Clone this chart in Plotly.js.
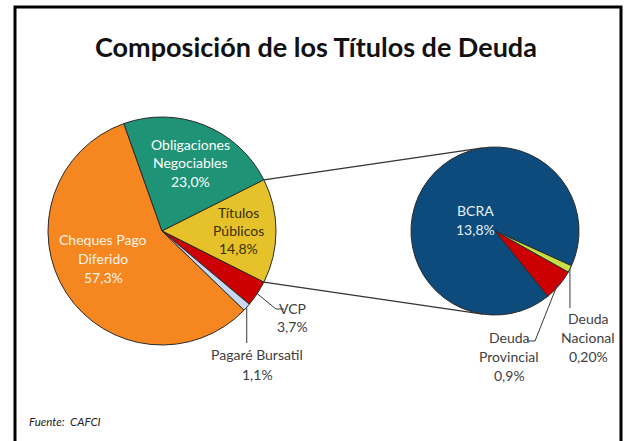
<!DOCTYPE html>
<html><head><meta charset="utf-8">
<script src="https://cdn.plot.ly/plotly-3.0.1.min.js"></script>
<style>html,body{margin:0;padding:0;background:#fff}#chart{width:627px;height:441px}</style>
</head><body><div id="chart"></div>
<script>
// ---------- data ----------
const mainCategories = ['Cheques Pago Diferido', 'Obligaciones Negociables', 'Títulos Públicos', 'VCP', 'Pagaré Bursatil'];
const mainLabelNames = ['Cheques Pago<br>Diferido', 'Obligaciones<br>Negociables', 'Títulos<br>Públicos', 'VCP', 'Pagaré Bursatil'];
const mainValues = [57.3, 23.0, 14.8, 3.7, 1.1];
const mainDecimals = [1, 1, 1, 1, 1];
const mainColors = ['#F68620', '#1E9375', '#E5C12A', '#CC0000', '#C6D9F1'];

const subCategories = ['BCRA', 'Deuda Provincial', 'Deuda Nacional'];
const subLabelNames = ['BCRA', 'Deuda<br>Provincial', 'Deuda<br>Nacional'];
const subValues = [13.8, 0.9, 0.2];
const subDecimals = [1, 1, 2];
const subColors = ['#0D4B7C', '#CC0000', '#C7DE46'];

const explodedIndex = 2; // 'Títulos Públicos' is broken down in the second pie

// ---------- geometry / style ----------
const W = 627, H = 441;
const L = {cx: 162, cy: 231, r: 114};
const S = {cx: 495, cy: 231, r: 84};
const FONT = 'Lato, "Open Sans", sans-serif';
const FS = 14;

const px = x => x / W;
const py = y => (H - y) / H;
const fmt = (v, d) => v.toFixed(d).replace('.', ',') + '%';
const sum = a => a.reduce((s, v) => s + v, 0);
const cumBefore = (a, i) => sum(a.slice(0, i));
function polar(c, clockDeg, rr) {
  const t = clockDeg * Math.PI / 180;
  return [c.cx + rr * Math.sin(t), c.cy - rr * Math.cos(t)];
}
function domainOf(c) {
  return {x: [px(c.cx - c.r), px(c.cx + c.r)], y: [py(c.cy + c.r), py(c.cy - c.r)]};
}

// main pie: exploded slice centred on 3 o'clock, clockwise
const mainTotal = sum(mainValues);
const mainRot = 90 - (cumBefore(mainValues, explodedIndex) + mainValues[explodedIndex] / 2) / mainTotal * 360;
const mainRotation = ((mainRot % 360) + 360) % 360;
const mainClock = f => mainRotation + f / mainTotal * 360;
const mainMid = i => mainClock(cumBefore(mainValues, i) + mainValues[i] / 2);

// second pie: counterclockwise (plotly: first slice begins at 'rotation' measured clockwise)
const subTotal = sum(subValues);
const subRotation = 141;
const subClock = f => subRotation + (subValues[0] - f) / subTotal * 360;
const subMid = i => subClock(cumBefore(subValues, i) + subValues[i] / 2);

const traces = [
  {type: 'pie', labels: mainCategories, values: mainValues, sort: false, direction: 'clockwise',
   rotation: mainRotation, domain: domainOf(L), textinfo: 'none', hoverinfo: 'label+value',
   marker: {colors: mainColors, line: {color: '#2b2b2b', width: 1}}, showlegend: false},
  {type: 'pie', labels: subCategories, values: subValues, sort: false, direction: 'counterclockwise',
   rotation: subRotation, domain: domainOf(S), textinfo: 'none', hoverinfo: 'label+value',
   marker: {colors: subColors, line: {color: '#2b2b2b', width: 1}}, showlegend: false}
];

// ---------- connector lines ----------
function tangent(P, c, sign) {
  const dx = c.cx - P[0], dy = c.cy - P[1];
  const d = Math.hypot(dx, dy);
  const a = Math.atan2(dy, dx) + sign * Math.asin(c.r / d);
  const len = Math.sqrt(d * d - c.r * c.r);
  return [P[0] + len * Math.cos(a), P[1] + len * Math.sin(a)];
}
const P1 = polar(L, mainClock(cumBefore(mainValues, explodedIndex)), L.r);
const P2 = polar(L, mainClock(cumBefore(mainValues, explodedIndex + 1)), L.r);
const T1 = tangent(P1, S, -1);
const T2 = tangent(P2, S, 1);

function seg(a, b, color, w) {
  return {type: 'line', xref: 'paper', yref: 'paper', x0: px(a[0]), y0: py(a[1]), x1: px(b[0]), y1: py(b[1]),
          line: {color: color || '#3a3a3a', width: w || 1}};
}
const shapes = [
  {type: 'rect', xref: 'paper', yref: 'paper', x0: px(15), x1: px(621), y0: -0.05, y1: py(7),
   line: {color: '#000', width: 3}, layer: 'below'},
  seg(P1, T1, '#333', 1.2), seg(P2, T2, '#333', 1.2)
];

// ---------- leader lines ----------
const vcpStart = polar(L, mainMid(3), L.r);
shapes.push(seg(vcpStart, [276, 309]), seg([276, 309], [284, 309]));
const pagStart = polar(L, mainMid(4), L.r);
shapes.push(seg(pagStart, [pagStart[0], 343]));
const provStart = polar(S, subMid(1), S.r - 2);
shapes.push(seg(provStart, [535, 341]), seg([535, 341], [527, 341]));
const nacStart = polar(S, subMid(2), S.r);
shapes.push(seg(nacStart, [nacStart[0], 308]));

// ---------- labels ----------
const annotations = [];
function block(lines, x, y, color, gap) {
  lines.forEach((t, k) => annotations.push({xref: 'paper', yref: 'paper', x: px(x), y: py(y + k * (gap || 19)),
    xanchor: 'center', yanchor: 'middle', showarrow: false, text: t,
    font: {family: FONT, size: FS, color: color}}));
}
const lines = (names, vals, decs, i) => names[i].split('<br>').concat([fmt(vals[i], decs[i])]);
const mainPos = [[103, 240, '#FFF4E8'], [190, 144, '#FFFFFF'], [238, 212, '#3a3000'], [292, 308, '#404040'], [257, 354, '#404040']];
mainPos.forEach((p, i) => block(lines(mainLabelNames, mainValues, mainDecimals, i), p[0], p[1], p[2], i === 4 ? 20 : 18.5));
const subPos = [[475, 210, '#E6F0FA'], [509, 337, '#404040'], [588, 318, '#404040']];
subPos.forEach((p, i) => block(lines(subLabelNames, subValues, subDecimals, i), p[0], p[1], p[2], 19));

annotations.push({xref: 'paper', yref: 'paper', x: px(316), y: py(46), xanchor: 'center', yanchor: 'middle',
  showarrow: false, text: '<b>Composición de los Títulos de Deuda</b>',
  font: {family: FONT, size: 27, color: '#111'}});
annotations.push({xref: 'paper', yref: 'paper', x: px(27), y: py(421), xanchor: 'left', yanchor: 'middle',
  showarrow: false, text: '<i>Fuente:  CAFCI</i>', font: {family: FONT, size: 11.5, color: '#222'}});

Plotly.newPlot('chart', traces, {
  width: W, height: H, margin: {l: 0, r: 0, t: 0, b: 0},
  paper_bgcolor: '#fff', plot_bgcolor: '#fff', showlegend: false,
  shapes: shapes, annotations: annotations
}, {displayModeBar: false, staticPlot: true});
</script></body></html>
